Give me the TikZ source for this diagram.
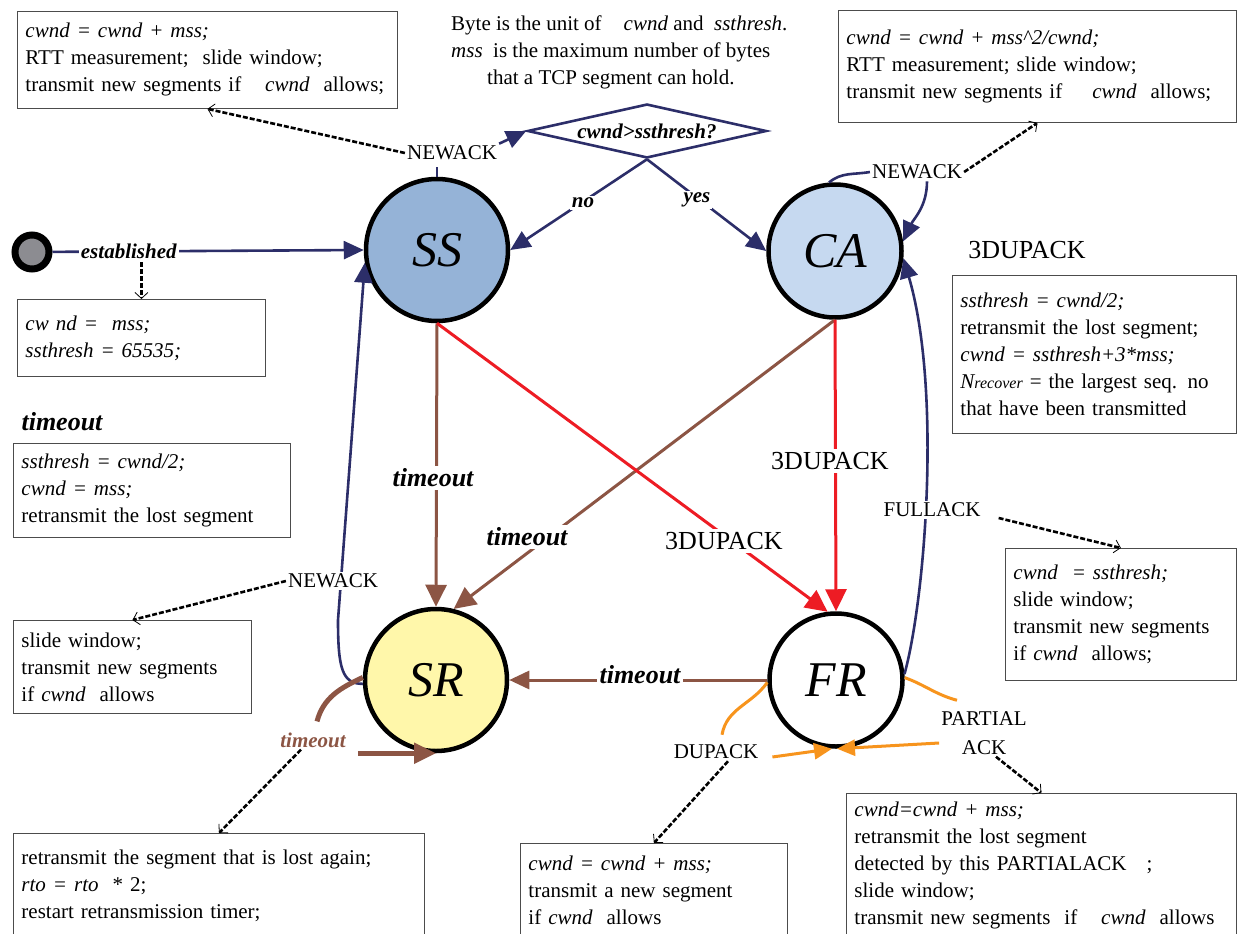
\documentclass[tikz,border=0pt]{standalone}
\usepackage{fontspec}
\setmainfont{Liberation Serif}
\usetikzlibrary{arrows.meta,shapes.geometric,calc}

\definecolor{navy}{RGB}{44,46,105}
\definecolor{rust}{RGB}{140,85,68}
\definecolor{fred}{RGB}{237,28,36}
\definecolor{amber}{RGB}{247,148,29}
\definecolor{ssfill}{RGB}{149,179,215}
\definecolor{cafill}{RGB}{198,217,240}
\definecolor{srfill}{RGB}{255,247,170}
\definecolor{initgray}{RGB}{140,140,145}

\begin{document}
\begin{tikzpicture}[
  x=1pt, y=1pt,
  state/.style={circle, draw=black, line width=4.5pt, inner sep=0pt,
    font=\fontsize{50}{50}\selectfont\itshape},
  infobox/.style={draw=black!70, line width=0.9pt, fill=white, anchor=north west,
    align=left, inner xsep=8pt, inner ysep=2pt, font=\fontsize{21}{27}\selectfont},
  lbl/.style={fill=white, inner sep=2pt, font=\fontsize{21}{21}\selectfont},
  lblbi/.style={fill=white, inner sep=2pt, font=\fontsize{21}{21}\selectfont\bfseries\itshape},
  biglbl/.style={fill=white, inner sep=3pt, font=\fontsize{26}{26}\selectfont},
  bigbi/.style={fill=white, inner sep=3pt, font=\fontsize{26}{26}\selectfont\bfseries\itshape},
  bigtip/.style={-{Triangle[length=20pt,width=18pt]}},
  hugetip/.style={-{Triangle[length=22pt,width=21pt]}},
  midtip/.style={-{Triangle[length=18pt,width=16pt]}},
  navyline/.style={draw=navy, line width=2.6pt},
  rustline/.style={draw=rust, line width=3pt},
  redline/.style={draw=fred, line width=3pt},
  amberline/.style={draw=amber, line width=3pt},
  notearrow/.style={draw=black, line width=2.6pt, dash pattern=on 5pt off 2pt,
    -{Straight Barb[length=6pt,width=13pt,line width=0.8pt]}},
]
\useasboundingbox (0,0) rectangle (1237,-934);

% ---- states ----
\node[state, fill=ssfill, minimum size=142pt] (SS) at (437,-250) {SS};
\node[state, fill=cafill, minimum size=133pt] (CA) at (835,-251) {CA};
\node[state, fill=srfill, minimum size=142pt] (SR) at (436,-680) {SR};
\node[state, fill=white,  minimum size=133pt] (FR) at (836,-680) {FR};
\node[circle, draw=black, line width=7pt, fill=initgray, minimum size=34pt, inner sep=0pt] (init) at (32,-252) {};

% ---- decision ----
\node[diamond, draw=navy, line width=2.6pt, aspect=4.4, minimum width=239pt, minimum height=54pt,
  inner sep=0pt, font=\fontsize{21}{21}\selectfont\bfseries\itshape] (dia) at (647,-131) {cwnd>ssthresh?};

% ---- labels that connectors end on ----
\node[lbl] (nwss) at (452,-153) {NEWACK};
\node[lbl] (nwca) at (917,-172) {NEWACK};
\node[font=\fontsize{21}{21}\selectfont\bfseries\itshape, text=rust, inner sep=2pt] (srto) at (313,-740) {timeout};
\node[lbl, fill=none] (dup) at (716,-752) {DUPACK};
\node[lbl, fill=none, align=center, font=\fontsize{21}{29}\selectfont] (part) at (984,-733) {PARTIAL\\ACK};

% ---- navy transitions ----
\draw[navyline, bigtip] (init) -- node[lblbi, pos=0.245] (est) {established} (SS.west);
\draw[navyline, bigtip] (dia.south) -- (SS.east);
\draw[navyline, bigtip] (dia.south) -- (CA.west);
\draw[navyline] (SS.north) -- ++(0,10);
\draw[navyline, bigtip] (nwss.north east) -- (dia.west);
\draw[navyline] (CA.95) to[out=40, in=190] (nwca.west);
\draw[navyline, bigtip] ([xshift=10pt]nwca.south) to[out=-90, in=65] (CA.8);
\draw[navyline, bigtip] (FR.5) .. controls (925,-600) and (942,-390) .. (CA.-6);
\draw[navyline, bigtip] (SR.183) .. controls (342,-684) and (338,-668) .. (338,-620) -- (SS.190);

% ---- timeout transitions ----
\draw[rustline, hugetip] (SS.south) -- (SR.north);
\draw[rustline, hugetip] (CA.south) -- (SR.76);
\draw[rustline, bigtip] (FR.west) -- (SR.east);

% ---- 3DUPACK transitions ----
\draw[redline, hugetip] (SS.south) -- (FR.97);
\draw[redline, hugetip] (CA.south) -- (FR.north);

% ---- SR self loop ----
\draw[draw=rust, line width=5pt] (SR.178) to[out=205, in=75] ([xshift=4pt,yshift=9pt]srto.north);
\draw[draw=rust, line width=5pt, -{Triangle[length=22pt,width=20pt]}] ($(srto.east |- SR.south)+(10,0)$) -- (SR.south);

% ---- FR self loops ----
\draw[amberline] (FR.182) to[out=235, in=80] ([xshift=6pt,yshift=8pt]dup.north);
\draw[amberline, midtip] ($(dup.east)+(12,-5)$) -- ([xshift=-4pt]FR.south);
\draw[amberline] (FR.2) to[out=-20, in=165] ([xshift=-27pt,yshift=9pt]part.north);
\draw[amberline, midtip] ([yshift=-10pt]part.west) -- ([xshift=1pt]FR.south);

% ---- labels on connectors ----
\node[lblbi] (lno) at (583,-203) {no};
\node[lblbi] (lyes) at (697,-200) {yes};
\node[lbl] (full) at (932,-510) {FULLACK};
\node[lbl] (nwl) at (333,-581) {NEWACK};
\node[bigbi] (to1) at (433,-478) {timeout};
\node[bigbi] (to2) at (527,-537) {timeout};
\node[bigbi] (to3) at (640,-675) {timeout};
\node[biglbl] (dup1) at (724,-541) {3DUPACK};
\node[biglbl] (dup2) at (830,-461) {3DUPACK};

% ---- headings ----
\node[inner sep=0pt, font=\fontsize{26}{26}\selectfont\bfseries\itshape] (tohead) at (62,-422) {timeout};
\node[inner sep=0pt, font=\fontsize{26}{26}\selectfont] (duphead) at (1027,-250) {3DUPACK};
\node[anchor=north west, inner sep=0pt, align=left, font=\fontsize{21}{27}\selectfont] (unitnote) at (451,-16)
  {Byte is the unit of\hspace{22pt}\textit{cwnd} and\ \ \textit{ssthresh}.\\
   \textit{mss}\ \ is the maximum number of bytes\\
   \hspace*{36pt}that a TCP segment can hold.};

% ---- action boxes ----
\node[infobox, text width=364pt, minimum height=97pt] (tlbox) at (17,-11)
  {\textit{cwnd = cwnd + mss;}\\
   RTT measurement;\ \ slide window;\\
   \mbox{transmit new segments if\hspace{24pt}\textit{cwnd}\ \ allows;}};
\node[infobox, text width=382pt, minimum height=112pt] (trbox) at (838,-10)
  {\textit{cwnd = cwnd + mss\textasciicircum 2/cwnd;}\\
   RTT measurement; slide window;\\
   \mbox{transmit new segments if\hspace{30pt}\textit{cwnd}\ \ allows;}};
\node[infobox, text width=232pt, minimum height=77pt] (ibox) at (17,-299)
  {\textit{cw nd =\ \ mss;}\\
   \textit{ssthresh = 65535;}};
\node[infobox, text width=261pt, minimum height=94pt] (tobox) at (13,-443)
  {\textit{ssthresh = cwnd/2;}\\
   \textit{cwnd = mss;}\\
   retransmit the lost segment};
\node[infobox, text width=268pt, minimum height=158pt] (dpabox) at (952,-275)
  {\textit{ssthresh = cwnd/2;}\\
   retransmit the lost segment;\\
   \textit{cwnd = ssthresh+3*mss;}\\
   \textit{N{\fontsize{16}{16}\selectfont recover}} = the largest seq. no\\
   that have been transmitted};
\node[infobox, text width=215pt, minimum height=132pt] (flbox) at (1005,-548)
  {\textit{cwnd\ \ = ssthresh;}\\
   slide window;\\
   transmit new segments\\
   if \textit{cwnd}\ \ allows;};
\node[infobox, text width=222pt, minimum height=93pt] (nlbox) at (13,-620)
  {slide window;\\
   transmit new segments\\
   if \textit{cwnd}\ \ allows};
\node[infobox, text width=395pt, minimum height=104pt] (srbox) at (13,-833)
  {retransmit the segment that is lost again;\\
   \textit{rto = rto}\ \ * 2;\\
   restart retransmission timer;};
\node[infobox, text width=251pt, minimum height=94pt] (dpbox) at (520,-843)
  {\textit{cwnd = cwnd + mss;}\\
   transmit a new segment\\
   if \textit{cwnd}\ \ allows};
\node[infobox, text width=374pt, minimum height=144pt] (pabox) at (846,-793)
  {\textit{cwnd=cwnd + mss;}\\
   retransmit the lost segment\\
   detected by this PARTIALACK\hspace{20pt};\\
   slide window;\\
   \mbox{transmit new segments\ \ if\hspace{24pt}\textit{cwnd}\ \ allows}};

% ---- dashed annotation arrows ----
\draw[notearrow] (nwss.west) -- (tlbox.south);
\draw[notearrow] (nwca.east) -- (trbox.south);
\draw[notearrow] (est.south -| ibox.north) -- (ibox.north);
\draw[notearrow] (nwl.west) -- (nlbox.north);
\draw[notearrow] ([xshift=-12pt]srto.south) -- (srbox.north);
\draw[notearrow] ([xshift=12pt]dup.south) -- (dpbox.north);
\draw[notearrow] ([xshift=12pt]part.south) -- (pabox.north);
\draw[notearrow] ($(full.east)+(16,-8)$) -- (flbox.north);
\end{tikzpicture}
\end{document}
